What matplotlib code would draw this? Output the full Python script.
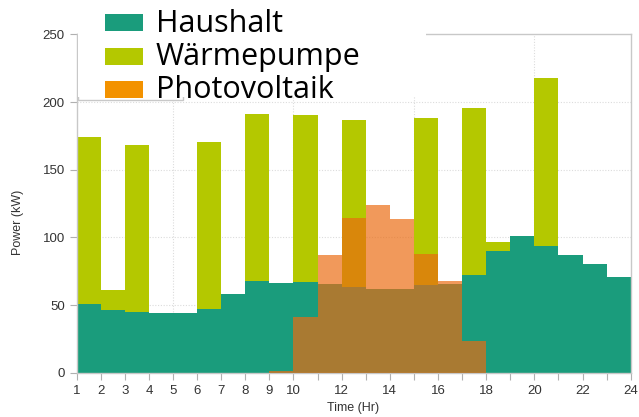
import numpy as np
import matplotlib.pyplot as plt
from matplotlib.patches import Rectangle

# Stündliche Leistung (kW), jeweils für das Intervall [h, h+1)
hours = np.arange(1, 25)
haushalt = [51, 46, 45, 44, 44, 47, 58, 68, 66, 67, 65.5, 63.5,
            62, 62, 64.5, 65.5, 72, 90, 101, 94, 87, 80, 71]
waermepumpe = [123.5, 15, 123.5, 0, 0, 123.5, 0, 123.5, 0, 123.5, 0, 123,
               0, 0, 123.5, 0, 124, 6.5, 0, 124, 0, 0, 0]
photovoltaik = [0, 0, 0, 0, 0, 0, 0, 0, 1.2, 41, 87, 114,
                124, 113.5, 88, 68, 23.5, 0, 0, 0, 0, 0, 0]

labels = ['Haushalt', 'Wärmepumpe', 'Photovoltaik']
colors = ['#1a9c7c', '#b4c800', '#f39200']
pv_fill = '#eb6b11'

W, H = 639, 417
fig = plt.figure(figsize=(W / 100, H / 100), dpi=100)
ax = fig.add_axes([76.7 / W, 1 - 372.7 / H, (630.7 - 76.7) / W, (372.7 - 34.5) / H])

hh = np.array(haushalt)
total = hh + np.array(waermepumpe)
ax.stairs(hh, hours, fill=True, color=colors[0], zorder=2)
ax.stairs(total, hours, baseline=hh, fill=True, color=colors[1], zorder=2)
ax.stairs(photovoltaik, hours, fill=True, color=pv_fill, alpha=0.69, zorder=3)

ax.set_xlim(1, 24)
ax.set_ylim(0, 250)
ax.set_xticks(hours)
ax.set_xticklabels([str(h) if (h <= 10 or h % 2 == 0) else '' for h in hours])
ax.set_yticks(np.arange(0, 251, 50))

for x in [5, 10, 15, 20]:
    ax.axvline(x, color='#dcdcdc', lw=0.8, ls=(0, (1, 1.5)), zorder=1)
for y in [50, 100, 150, 200]:
    ax.axhline(y, color='#dcdcdc', lw=0.8, ls=(0, (1, 1.5)), zorder=1)

for side in ['top', 'right', 'left', 'bottom']:
    ax.spines[side].set_color('#c8c8c8')
    ax.spines[side].set_linewidth(1)
ax.tick_params(axis='both', colors='#b0b0b0', length=5, width=0.8,
               labelcolor='#333333', labelsize=9.5)
for t in ax.get_xticklabels() + ax.get_yticklabels():
    t.set_fontfamily('Liberation Sans')

fig.text(18 / W, 1 - 222 / H, 'Power (kW)', rotation=90, ha='center', va='center',
         fontsize=9, color='#333333', family='Liberation Sans')
fig.text(353 / W, 1 - 408 / H, 'Time (Hr)', ha='center', va='center',
         fontsize=9, color='#333333', family='Liberation Sans')

def px_rect(x0, y0, x1, y1, **kw):
    # Rechteck in Pixelkoordinaten (y von oben gemessen)
    return Rectangle((x0 / W, 1 - y1 / H), (x1 - x0) / W, (y1 - y0) / H,
                     transform=fig.transFigure, figure=fig, **kw)

# Legendenrahmen und weißer Hintergrund hinter der Legende
fig.patches.append(px_rect(77.5, 40, 183, 100, facecolor='white',
                           edgecolor='#c8c8c8', lw=1, zorder=5))
fig.patches.append(px_rect(77.8, 0, 426, 96.5, facecolor='white',
                           edgecolor='none', lw=0, zorder=6))

row_centers = [22.5, 56, 89]
for lab, col, yc in zip(labels, colors, row_centers):
    fig.patches.append(px_rect(105, yc - 8.5, 143, yc + 8.5, facecolor=col,
                               edgecolor='none', zorder=7))
    fig.text(156 / W, 1 - (yc + 1) / H, lab, ha='left', va='center',
             fontsize=22, color='black', family='Open Sans', zorder=8)

fig.savefig('out.png', dpi=100)
